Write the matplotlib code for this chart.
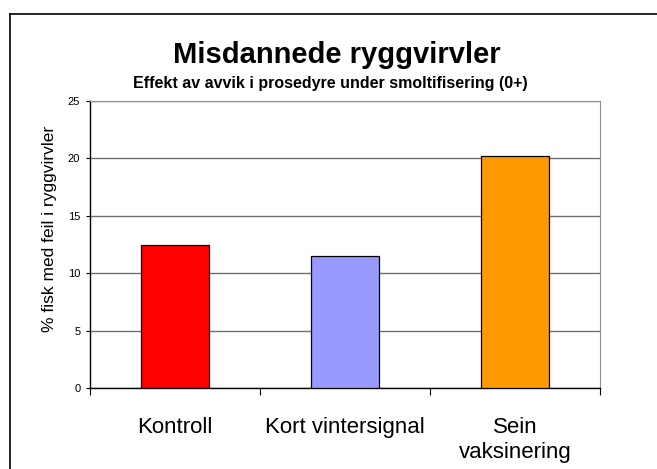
import matplotlib
matplotlib.use('Agg')
import matplotlib.pyplot as plt
from matplotlib.lines import Line2D

plt.rcParams['font.family'] = ['Liberation Sans', 'DejaVu Sans']

categories = ['Kontroll', 'Kort vintersignal', 'Sein\nvaksinering']
values     = [12.5, 11.5, 20.2]
colors     = ['#FF0000', '#9999FF', '#FF9900']
yticks     = [0, 5, 10, 15, 20, 25]

W, H = 657, 469
fig = plt.figure(figsize=(W/100., H/100.), dpi=100)
ax = fig.add_axes([90./W, 1-388.3/H, 510./W, 287.3/H])

x = list(range(len(categories)))
ax.bar(x, values, width=0.4, color=colors, edgecolor='black', linewidth=0.9, zorder=3)

ax.set_xlim(-0.5, 2.5)
ax.set_ylim(0, 25)
ax.set_yticks(yticks)
ax.set_yticklabels([str(t) for t in yticks], fontsize=8)
ax.yaxis.grid(True, color='#707070', linewidth=1.0, zorder=0)
ax.tick_params(axis='y', direction='out', length=3, width=0.8, pad=4)

# category boundaries as ticks, names as minor labels
ax.set_xticks([-0.5, 0.5, 1.5, 2.5])
ax.set_xticklabels([])
ax.tick_params(axis='x', which='major', direction='out', length=5, width=0.8)
ax.set_xticks(x, minor=True)
ax.set_xticklabels(categories, minor=True, fontsize=16)
ax.tick_params(axis='x', which='minor', length=0, pad=21)
for lab in ax.get_xticklabels(minor=True):
    lab.set_linespacing(1.2)

for s in ['top', 'right']:
    ax.spines[s].set_color('#909090')
for s in ['left', 'bottom']:
    ax.spines[s].set_color('black')
    ax.spines[s].set_linewidth(1.0)

fig.text(337./W, 1-63.3/H, 'Misdannede ryggvirvler', fontsize=21, fontweight='bold',
         ha='center', va='baseline')
fig.text(330./W, 1-88.3/H, 'Effekt av avvik i prosedyre under smoltifisering (0+)',
         fontsize=11.5, fontweight='bold', ha='center', va='baseline')
fig.text(50./W, 1-229./H, '% fisk med feil i ryggvirvler', fontsize=12.5,
         rotation=90, ha='center', va='center')

# outer chart frame (only top and left edges visible)
fig.add_artist(Line2D([10./W, 10./W], [0, 1-14./H], color='black', linewidth=1.2,
                      transform=fig.transFigure))
fig.add_artist(Line2D([10./W, 1], [1-14./H, 1-14./H], color='black', linewidth=1.2,
                      transform=fig.transFigure))

fig.savefig('out.png', dpi=100)
